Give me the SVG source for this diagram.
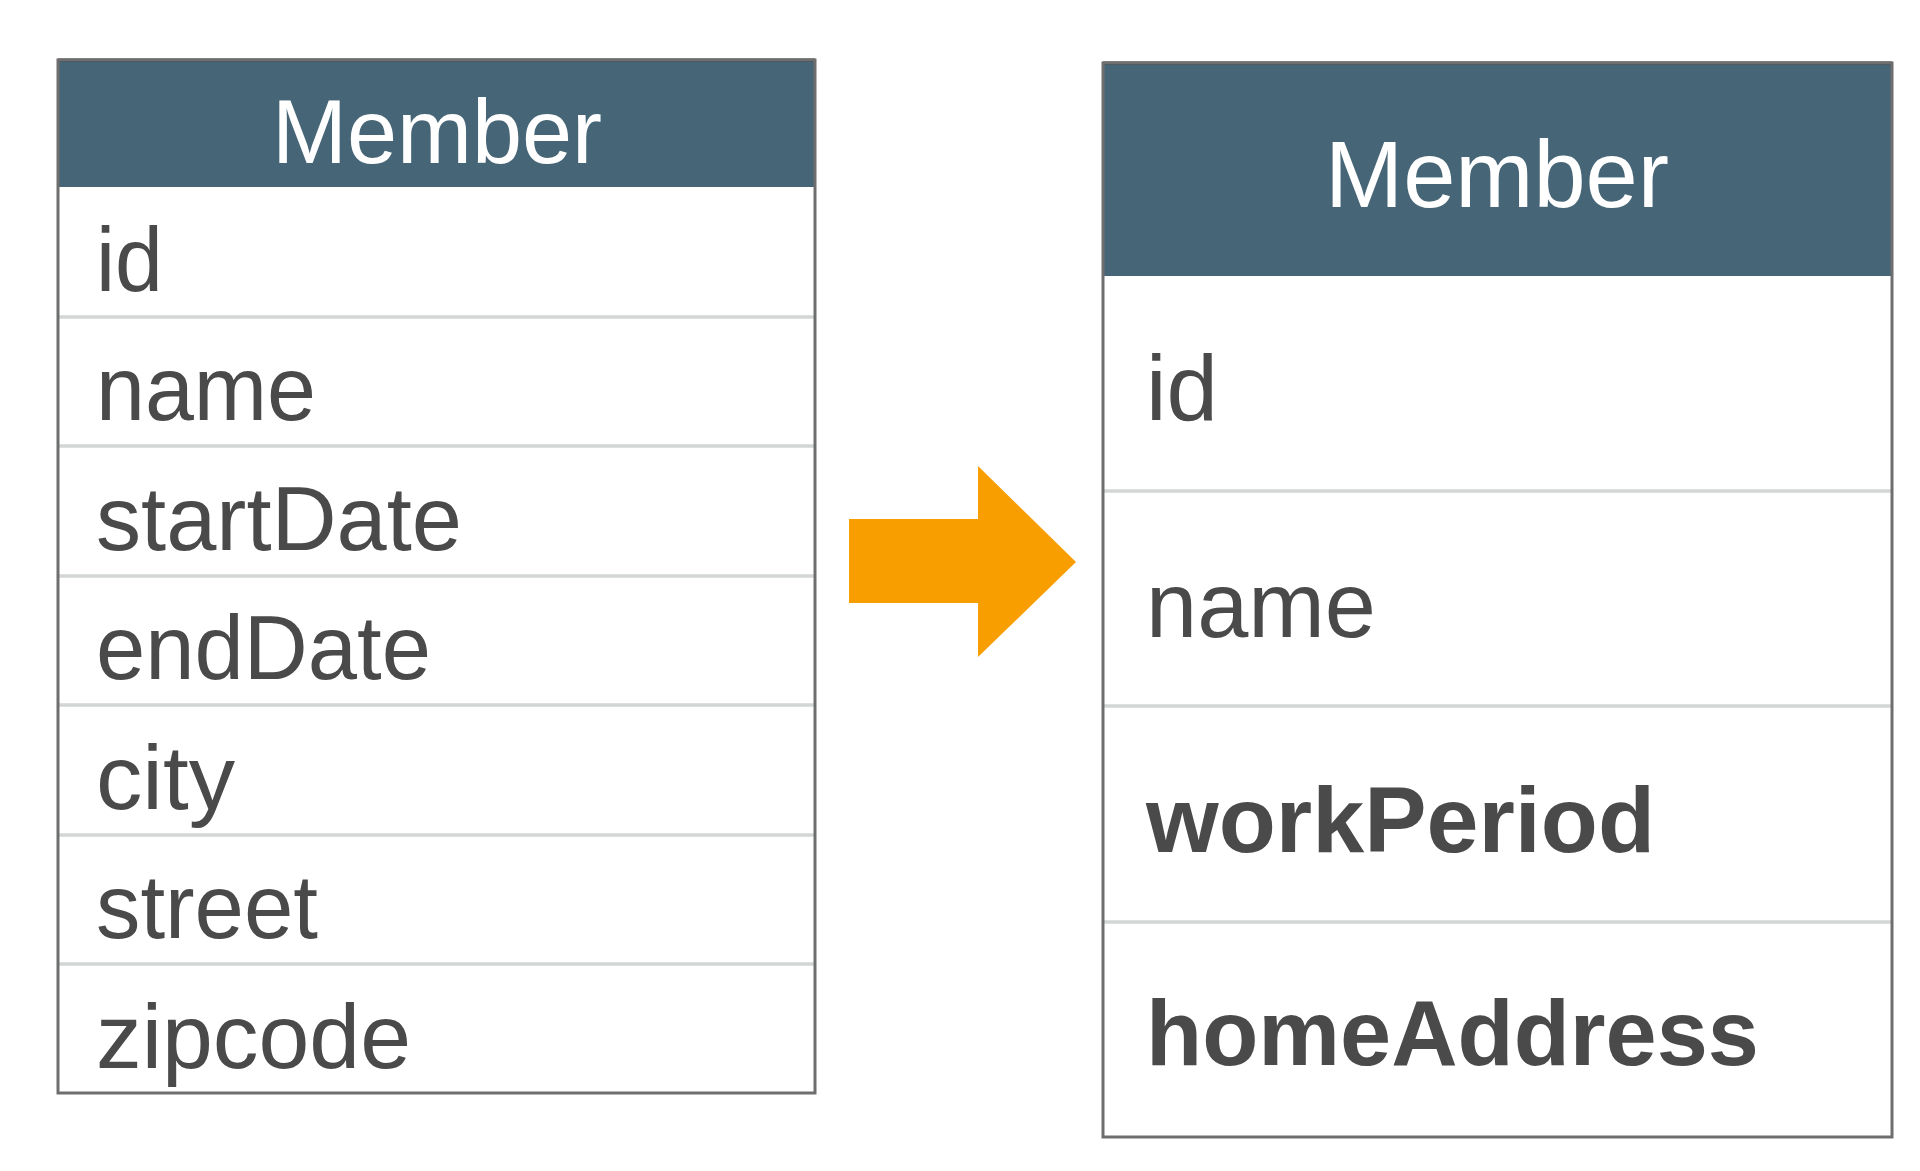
<svg xmlns="http://www.w3.org/2000/svg" width="1920" height="1171" viewBox="0 0 1920 1171">
  <style>
    text { font-family: "Liberation Sans", Arial, Helvetica, sans-serif; }
    .hdr { fill: #466576; }
    .hdr-top { stroke: #1e2a31; stroke-width: 3; }
    .title { fill: #ffffff; text-anchor: middle; }
    .field { fill: #4a4a4a; }
    .bold { font-weight: bold; }
    .sep { stroke: #d3d6d6; stroke-width: 3.5; }
    .frame { fill: none; stroke: #6e6e6e; stroke-width: 3; }
    .arrow { fill: #f99e00; }
  </style>

  <rect width="1920" height="1171" fill="#ffffff"/>

  <!-- flat Member table: one column per attribute -->
  <g id="member-flat">
    <rect x="58" y="60" width="757" height="1033" fill="#ffffff"/>
    <rect class="hdr" x="58" y="60" width="757" height="127"/>
    <line class="hdr-top" x1="58" y1="60" x2="815" y2="60"/>
    <text class="title" x="437" y="163" font-size="90" textLength="330" lengthAdjust="spacingAndGlyphs">Member</text>
    <line class="sep" x1="58" y1="317" x2="815" y2="317"/>
    <line class="sep" x1="58" y1="446" x2="815" y2="446"/>
    <line class="sep" x1="58" y1="576" x2="815" y2="576"/>
    <line class="sep" x1="58" y1="705" x2="815" y2="705"/>
    <line class="sep" x1="58" y1="835" x2="815" y2="835"/>
    <line class="sep" x1="58" y1="964" x2="815" y2="964"/>
    <g class="field" font-size="90" lengthAdjust="spacingAndGlyphs">
      <text x="96" y="291" textLength="67" lengthAdjust="spacingAndGlyphs">id</text>
      <text x="96" y="420" textLength="220" lengthAdjust="spacingAndGlyphs">name</text>
      <text x="96" y="550" textLength="366" lengthAdjust="spacingAndGlyphs">startDate</text>
      <text x="96" y="679" textLength="335" lengthAdjust="spacingAndGlyphs">endDate</text>
      <text x="96" y="809" textLength="139" lengthAdjust="spacingAndGlyphs">city</text>
      <text x="96" y="938" textLength="222" lengthAdjust="spacingAndGlyphs">street</text>
      <text x="96" y="1068" textLength="315" lengthAdjust="spacingAndGlyphs">zipcode</text>
    </g>
    <rect class="frame" x="58" y="60" width="757" height="1033"/>
  </g>

  <!-- Member table with embedded value types -->
  <g id="member-embedded">
    <rect x="1103" y="63" width="789" height="1074" fill="#ffffff"/>
    <rect class="hdr" x="1103" y="63" width="789" height="213"/>
    <line class="hdr-top" x1="1103" y1="63" x2="1892" y2="63"/>
    <text class="title" x="1497" y="207" font-size="94" textLength="344" lengthAdjust="spacingAndGlyphs">Member</text>
    <line class="sep" x1="1103" y1="491" x2="1892" y2="491"/>
    <line class="sep" x1="1103" y1="706" x2="1892" y2="706"/>
    <line class="sep" x1="1103" y1="922" x2="1892" y2="922"/>
    <g class="field" font-size="93">
      <text x="1146" y="420" textLength="72" lengthAdjust="spacingAndGlyphs">id</text>
      <text x="1146" y="637" textLength="230" lengthAdjust="spacingAndGlyphs">name</text>
      <text class="bold" x="1146" y="852" textLength="509" lengthAdjust="spacingAndGlyphs">workPeriod</text>
      <text class="bold" x="1146" y="1065" textLength="613" lengthAdjust="spacingAndGlyphs">homeAddress</text>
    </g>
    <rect class="frame" x="1103" y="63" width="789" height="1074"/>
  </g>

  <!-- transformation arrow -->
  <g id="connectors">
    <polygon class="arrow" points="849,519 978,519 978,466 1076,562 978,657 978,603 849,603"/>
  </g>
</svg>
